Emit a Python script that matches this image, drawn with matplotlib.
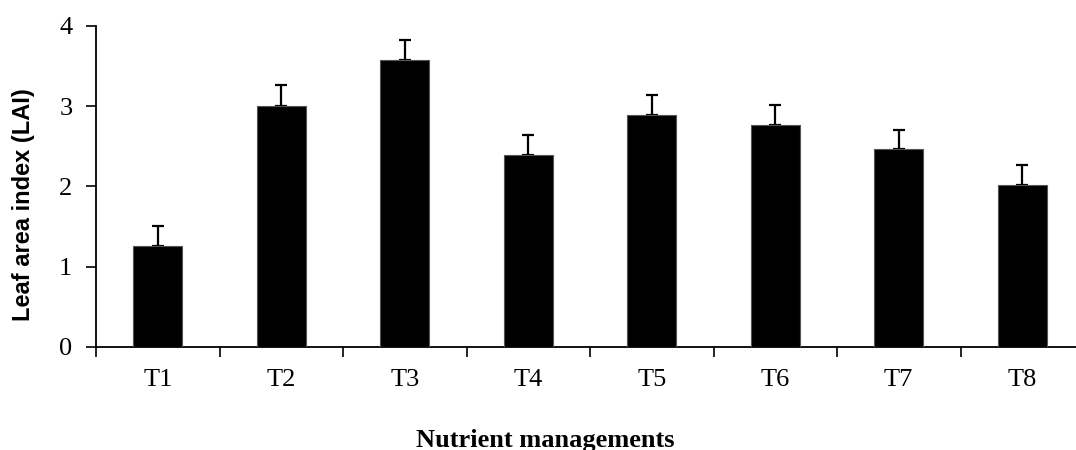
import numpy as np
import matplotlib.pyplot as plt
from matplotlib.ticker import FixedLocator, NullFormatter

treatments = ["T1", "T2", "T3", "T4", "T5", "T6", "T7", "T8"]
lai = [1.26, 3.00, 3.57, 2.39, 2.89, 2.76, 2.46, 2.02]
lai_err = [0.25, 0.26, 0.25, 0.25, 0.25, 0.26, 0.24, 0.25]

fig = plt.figure(figsize=(10.76, 4.5), dpi=100)
ax = fig.add_axes([96 / 1076, 1 - 346.7 / 450, 988 / 1076, 320.7 / 450])

x = np.arange(len(treatments))
ax.bar(x, lai, width=0.4, color="black", edgecolor="#555555", linewidth=0.8, zorder=3)
ax.errorbar(x, lai, yerr=[np.zeros(len(lai)), lai_err], fmt="none",
            ecolor="black", elinewidth=1.6, capsize=4.5, capthick=1.6, zorder=2)

ax.set_xlim(-0.5, len(treatments) - 0.5)
ax.set_ylim(0, 4)
ax.set_yticks([0, 1, 2, 3, 4])

ax.set_xticks(x)
ax.set_xticklabels(treatments)
ax.xaxis.set_minor_locator(FixedLocator(np.arange(-0.5, len(treatments), 1)))
ax.xaxis.set_minor_formatter(NullFormatter())
ax.tick_params(axis="x", which="major", length=0, pad=16)
ax.tick_params(axis="x", which="minor", length=7, width=1.2, direction="out")
ax.tick_params(axis="y", length=7, width=1.2, direction="out", pad=10)

for lab in ax.get_xticklabels() + ax.get_yticklabels():
    lab.set_fontfamily("Liberation Serif")
    lab.set_fontsize(19)

for s in ["top", "right"]:
    ax.spines[s].set_visible(False)
for s in ["left", "bottom"]:
    ax.spines[s].set_linewidth(1.3)

fig.text(24 / 1076, 1 - 205 / 450, "Leaf area index (LAI)", rotation=90,
         ha="center", va="center", fontfamily="Liberation Sans",
         fontweight="bold", fontsize=17)
fig.text(545 / 1076, 1 - 440 / 450, "Nutrient managements",
         ha="center", va="center", fontfamily="Liberation Serif",
         fontweight="bold", fontsize=19)

fig.savefig("out.png", dpi=100)
